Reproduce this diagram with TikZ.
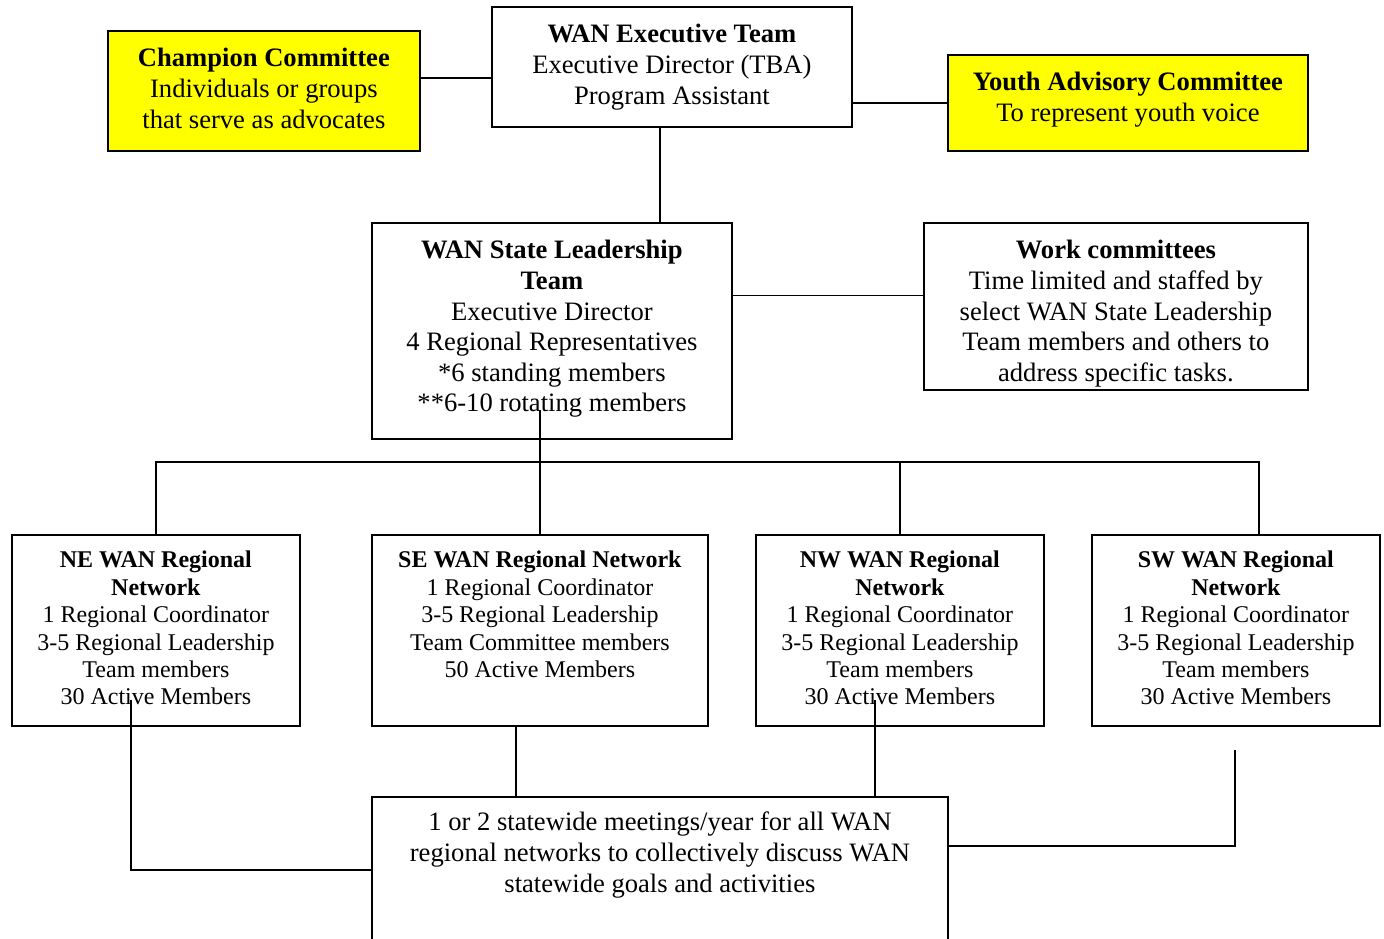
\documentclass[tikz,border=0pt]{standalone}
\usepackage{fontspec}
\setmainfont{Liberation Serif}
\usepackage{xcolor}
\usetikzlibrary{calc,positioning}
\definecolor{champyellow}{RGB}{255,255,0}
\definecolor{linkblack}{RGB}{0,0,0}

% boxed text: width, height, first baseline, lines
\newcommand{\orgtext}[4]{\parbox[t][#2][t]{#1}{\centering\rule{0pt}{#3}\ignorespaces#4}}

\begin{document}
\begin{tikzpicture}[
    x=1pt, y=-1pt,
    orgbox/.style={draw=linkblack, line width=1.8pt, fill=white, inner sep=0pt, anchor=north west, font=\fontsize{26.6}{30.6}\selectfont},
    yellowbox/.style={orgbox, fill=champyellow},
    regionbox/.style={orgbox, font=\fontsize{24}{27.4}\selectfont},
    link/.style={draw=linkblack, line width=1.8pt}
]

% Page
\clip (0,0) rectangle (1384,938);
\fill[white] (0,0) rectangle (1384,938);

% 1. TOP ROW
\node[yellowbox] (CHAMP) at (107,30) {\orgtext{312pt}{120pt}{36pt}{%
    \textbf{Champion Committee}\\
    Individuals or groups\\
    that serve as advocates}};

\node[orgbox] (EXEC) at (491,6) {\orgtext{360pt}{120pt}{36pt}{%
    \textbf{WAN Executive Team}\\
    Executive Director (TBA)\\
    Program Assistant}};

\node[yellowbox] (YOUTH) at (947,54) {\orgtext{360pt}{96pt}{36pt}{%
    \textbf{Youth Advisory Committee}\\
    To represent youth voice}};

% 2. STATE LEVEL
\node[orgbox] (STATE) at (371,222) {\orgtext{360pt}{216pt}{36pt}{%
    \textbf{WAN State Leadership}\\
    \textbf{Team}\\
    Executive Director\\
    4 Regional Representatives\\
    {*}6 standing members\\
    {**}6-10 rotating members}};

\node[orgbox] (WORK) at (923,222) {\orgtext{384pt}{167pt}{36pt}{%
    \textbf{Work committees}\\
    Time limited and staffed by\\
    select WAN State Leadership\\
    Team members and others to\\
    address specific tasks.}};

% 3. REGIONAL NETWORKS
\node[regionbox] (NE) at (11,534) {\orgtext{288pt}{191pt}{33pt}{%
    \textbf{NE WAN Regional}\\
    \textbf{Network}\\
    1 Regional Coordinator\\
    3-5 Regional Leadership\\
    Team members\\
    30 Active Members}};

\node[regionbox] (SE) at (371,534) {\orgtext{336pt}{191pt}{33pt}{%
    \textbf{SE WAN Regional Network}\\
    1 Regional Coordinator\\
    3-5 Regional Leadership\\
    Team Committee members\\
    50 Active Members}};

\node[regionbox] (NW) at (755,534) {\orgtext{288pt}{191pt}{33pt}{%
    \textbf{NW WAN Regional}\\
    \textbf{Network}\\
    1 Regional Coordinator\\
    3-5 Regional Leadership\\
    Team members\\
    30 Active Members}};

\node[regionbox] (SW) at (1091,534) {\orgtext{288pt}{191pt}{33pt}{%
    \textbf{SW WAN Regional}\\
    \textbf{Network}\\
    1 Regional Coordinator\\
    3-5 Regional Leadership\\
    Team members\\
    30 Active Members}};

% 4. STATEWIDE MEETINGS (runs off the page)
\node[orgbox] (MEET) at (371,796) {\orgtext{576pt}{146pt}{34pt}{%
    1 or 2 statewide meetings/year for all WAN\\
    regional networks to collectively discuss WAN\\
    statewide goals and activities}};

% Top row links
\coordinate (CHAMP_OUT) at ([yshift=13pt]CHAMP.east);
\draw[link] (CHAMP_OUT) -- (CHAMP_OUT -| EXEC.west);
\draw[link] (YOUTH.west) -- (YOUTH.west -| EXEC.east);
\coordinate (EXEC_DOWN) at ([xshift=-12pt]EXEC.south);
\draw[link] (EXEC_DOWN) -- (EXEC_DOWN |- STATE.north);

% State links
\coordinate (WORK_IN) at ([yshift=11pt]WORK.west);
\draw[link] (WORK_IN) -- (WORK_IN -| STATE.east);
\coordinate (STATE_DOWN) at (SE.north |- 0,410);
\draw[link] (STATE_DOWN) -- (SE.north);

% Bus to the regions
\coordinate (BUS_L) at (155,462);
\coordinate (BUS_R) at (1259,462);
\draw[link] (NE.north) -- (NE.north |- BUS_L) -- (BUS_R) -- (BUS_R |- SW.north);
\draw[link] (NW.north) -- (NW.north |- BUS_L);

% Regions to the meetings
\coordinate (NE_DOWN) at (131,700);
\draw[link] (NE_DOWN) |- (MEET.west);
\coordinate (SE_DOWN) at ([xshift=-24pt]SE.south);
\draw[link] (SE_DOWN) -- (SE_DOWN |- MEET.north);
\coordinate (NW_DOWN) at (875,700);
\draw[link] (NW_DOWN) -- (NW_DOWN |- MEET.north);
\coordinate (SW_DOWN) at (1235,750);
\draw[link] (SW_DOWN) |- ([yshift=24pt]MEET.east);

\end{tikzpicture}
\end{document}
